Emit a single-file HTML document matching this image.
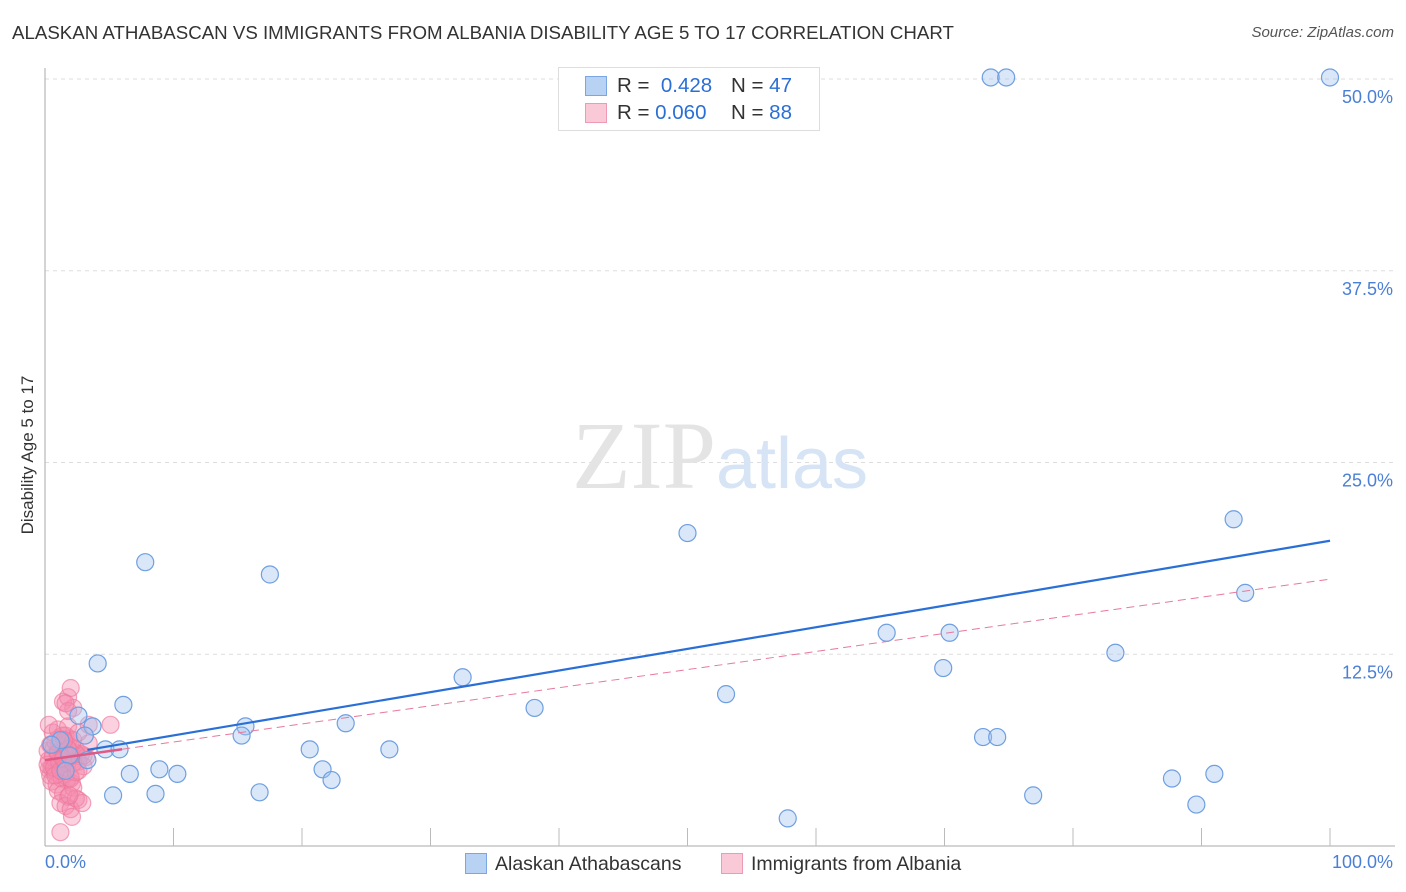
<!DOCTYPE html>
<html><head><meta charset="utf-8">
<style>
body{margin:0;background:#fff;font-family:"Liberation Sans",sans-serif;}
#wrap{position:relative;width:1406px;height:892px;overflow:hidden;}
.t{position:absolute;white-space:nowrap;}
</style></head><body>
<div id="wrap">
<div class="t" style="left:12px;top:22px;font-size:18.7px;color:#333;">ALASKAN ATHABASCAN VS IMMIGRANTS FROM ALBANIA DISABILITY AGE 5 TO 17 CORRELATION CHART</div>
<div class="t" style="right:12px;top:24px;font-size:15px;color:#555;font-style:italic;">Source: ZipAtlas.com</div>
<div class="t" style="left:28px;top:455px;font-size:17px;color:#333;transform:translate(-50%,-50%) rotate(-90deg);">Disability Age 5 to 17</div>
<svg id="plot" width="1406" height="892" style="position:absolute;left:0;top:0"></svg>
</div>
<script>
const xTicks=[0,10,20,30,40,50,60,70,80,90,100];
const yTicks=[12.5,25,37.5,50];
const yTickLabels=["12.5%","25.0%","37.5%","50.0%"];
const blueX=[73.6,74.8,100,50.0,92.5,93.4,7.8,17.5,65.5,70.4,4.1,69.9,83.3,32.5,53.0,6.1,38.1,2.6,3.7,15.6,23.4,15.3,73.0,74.1,4.7,5.8,20.6,26.8,3.3,8.9,6.6,10.3,21.6,22.3,87.7,91.0,5.3,8.6,16.7,76.9,89.6,57.8,1.2,1.9,0.5,3.1,1.6];
const blueY=[50.1,50.1,50.1,20.4,21.3,16.5,18.5,17.7,13.9,13.9,11.9,11.6,12.6,11.0,9.9,9.2,9.0,8.5,7.8,7.8,8.0,7.2,7.1,7.1,6.3,6.3,6.3,6.3,5.6,5.0,4.7,4.7,5.0,4.3,4.4,4.7,3.3,3.4,3.5,3.3,2.7,1.8,6.9,5.9,6.6,7.2,4.9];
const pinkX=[0.3,0.6,1.0,1.4,1.8,2.2,0.5,0.9,1.3,1.7,2.1,0.2,0.7,1.1,1.5,1.9,2.3,0.4,0.8,1.2,1.6,2.0,0.3,0.6,1.0,1.4,1.8,0.5,0.9,1.3,1.7,2.1,0.2,0.7,1.1,1.5,1.9,0.4,0.8,1.2,1.6,2.0,2.4,2.8,3.2,1.0,1.4,1.8,2.2,2.6,0.6,1.0,1.4,1.8,2.2,2.6,3.0,1.2,1.6,2.0,2.4,0.8,1.2,1.6,2.0,2.4,1.0,1.4,1.8,2.2,2.6,3.0,3.4,1.4,1.8,2.2,1.8,2.0,2.6,3.4,5.1,1.6,0.3,2.1,1.2,2.9,1.9,1.5];
const pinkY=[5.0,5.2,5.4,5.6,5.8,6.0,5.1,5.3,5.5,5.7,5.9,6.2,6.4,6.6,6.8,7.0,6.1,4.6,4.8,4.9,4.7,4.5,5.6,5.8,6.0,6.2,6.4,4.2,4.0,4.4,4.3,4.1,5.3,5.1,5.5,5.7,5.9,6.6,6.8,7.0,7.2,6.5,6.3,6.0,5.8,3.6,3.4,3.2,3.8,3.0,7.4,7.6,7.2,7.8,6.9,5.5,5.2,2.8,2.6,2.4,3.1,4.6,4.9,5.1,4.4,4.8,6.1,5.7,6.3,5.4,4.9,5.9,6.7,9.4,9.7,9.0,8.8,10.3,7.4,7.9,7.9,9.3,7.9,1.9,0.9,2.8,3.3,6.9];
const blueLine=[5.8,0.141];
const pinkLine=[5.6,0.118];
const NS="http://www.w3.org/2000/svg";
const svg=document.getElementById('plot');
const L=45,R=1330,B=846,T=79;
const xs=v=>L+(R-L)*v/100;
const ys=v=>B-(B-T)*v/50;
function mk(tag,attrs){const e=document.createElementNS(NS,tag);for(const k in attrs)e.setAttribute(k,attrs[k]);svg.appendChild(e);return e;}
yTicks.forEach((v,i)=>{
 const g=mk('line',{x1:L,x2:1395,y1:ys(v),y2:ys(v),stroke:'#ddd','stroke-dasharray':'4,4'});
 
 
 const t=mk('text',{x:1393,y:ys(v)+24,'text-anchor':'end','font-size':18,fill:'#4a7fd6','font-family':'Liberation Sans,sans-serif'});
 t.textContent=yTickLabels[i];
 
 
});
const ax=mk('line',{x1:L,x2:L,y1:68,y2:846,stroke:'#aaa'});


const bx=mk('line',{x1:L,x2:1395,y1:846,y2:846,stroke:'#aaa'});


xTicks.forEach(v=>{if(v===0)return;
 const l=mk('line',{x1:xs(v),x2:xs(v),y1:828,y2:846,stroke:'#bbb'});
 
 
});
const wm=mk('text',{x:720,y:488,'text-anchor':'middle','font-size':96,fill:'#e4e4e4','font-family':'Liberation Serif,serif'});


wm.innerHTML='ZIP<tspan fill="#d6e4f5" font-family="Liberation Sans,sans-serif" font-size="72">atlas</tspan>';
function dot(x,y,f,s,n){const c=mk('circle',{cx:xs(x),cy:ys(y),r:8.5,fill:f,stroke:s,'stroke-width':1.2});
 
 }
pinkX.forEach((x,i)=>dot(x,pinkY[i],'rgba(246,140,175,0.4)','rgba(236,120,155,0.65)','albania-point'));
blueX.forEach((x,i)=>dot(x,blueY[i],'rgba(160,195,240,0.4)','#6f9fe0','athabascan-point'));
const pd=mk('line',{x1:xs(0),y1:ys(pinkLine[0]),x2:xs(100),y2:ys(pinkLine[0]+pinkLine[1]*100),stroke:'#e8799c','stroke-width':1,'stroke-dasharray':'8,5'});


const ps=mk('line',{x1:xs(0),y1:ys(pinkLine[0]),x2:xs(6),y2:ys(pinkLine[0]+pinkLine[1]*6),stroke:'#e05a86','stroke-width':2.5});


const bl=mk('line',{x1:xs(3.3),y1:ys(blueLine[0]+blueLine[1]*3.3),x2:xs(100),y2:ys(blueLine[0]+blueLine[1]*100),stroke:'#2a6fd6','stroke-width':2.2});


</script>
<div class="t" style="left:45px;top:852px;font-size:18px;color:#4a7fd6;">0.0%</div>
<div class="t" style="right:13px;top:852px;font-size:18px;color:#4a7fd6;">100.0%</div>
<div style="position:absolute;left:558px;top:67px;width:260px;height:62px;border:1px solid #ddd;background:#fff;font-size:20.5px;color:#333;">
 <div style="position:absolute;left:26px;top:8px;width:20px;height:18px;background:#b8d2f4;border:1px solid #7aa6e3;"></div>
 <div class="t" style="left:58px;top:6px;">R = &nbsp;<span style="color:#2a6fd6">0.428</span></div>
 <div class="t" style="left:172px;top:6px;">N = <span style="color:#2a6fd6">47</span></div>
 <div style="position:absolute;left:26px;top:35px;width:20px;height:18px;background:#f9c9d7;border:1px solid #ef9ab4;"></div>
 <div class="t" style="left:58px;top:33px;">R = <span style="color:#2a6fd6">0.060</span></div>
 <div class="t" style="left:172px;top:33px;">N = <span style="color:#2a6fd6">88</span></div>
</div>
<div style="position:absolute;left:465px;top:853px;font-size:19.5px;color:#333;">
 <span style="display:inline-block;width:20px;height:19px;background:#b8d2f4;border:1px solid #7aa6e3;vertical-align:-4px;margin-right:8px;"></span>Alaskan Athabascans</div>
<div style="position:absolute;left:721px;top:853px;font-size:19.5px;color:#333;">
 <span style="display:inline-block;width:20px;height:19px;background:#f9c9d7;border:1px solid #ef9ab4;vertical-align:-4px;margin-right:8px;"></span>Immigrants from Albania</div>
</body></html>
